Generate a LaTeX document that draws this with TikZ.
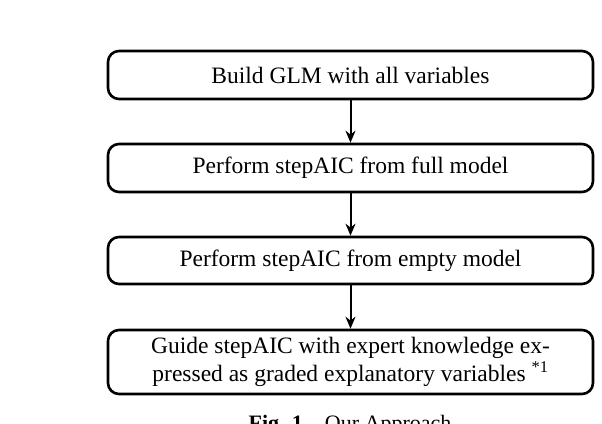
\documentclass[tikz,border=0pt]{standalone}
\usepackage{fontspec}
\setmainfont{Liberation Serif}
\usetikzlibrary{arrows.meta}
\begin{document}
\begin{tikzpicture}[x=1pt,y=1pt,
  stepbox/.style={draw, line width=2.6pt, rounded corners=11pt, minimum width=485pt, inner sep=0pt, align=center, font=\fontsize{23.5}{28}\selectfont},
  flow/.style={line width=2pt, -{Stealth[length=12pt,width=10pt]}}]
\useasboundingbox[fill=white] (0,0) rectangle (602,423);
\node[stepbox, minimum height=48pt] (b1) at (350.5,348) {Build GLM with all variables};
\node[stepbox, minimum height=48pt] (b2) at (350.5,255) {Perform stepAIC from full model};
\node[stepbox, minimum height=47pt] (b3) at (350.5,162.5) {Perform stepAIC from empty model};
\node[stepbox, minimum height=64pt] (b4) at (350.5,61) {Guide stepAIC with expert knowledge ex-\\pressed as graded explanatory variables \textsuperscript{*1}};
\draw[flow] (b1) -- (b2);
\draw[flow] (b2) -- (b3);
\draw[flow] (b3) -- (b4);
\node[anchor=base, font=\fontsize{22}{26}\selectfont] (cap) at (350,-7) {\textbf{Fig. 1}\quad Our Approach};
\end{tikzpicture}
\end{document}
